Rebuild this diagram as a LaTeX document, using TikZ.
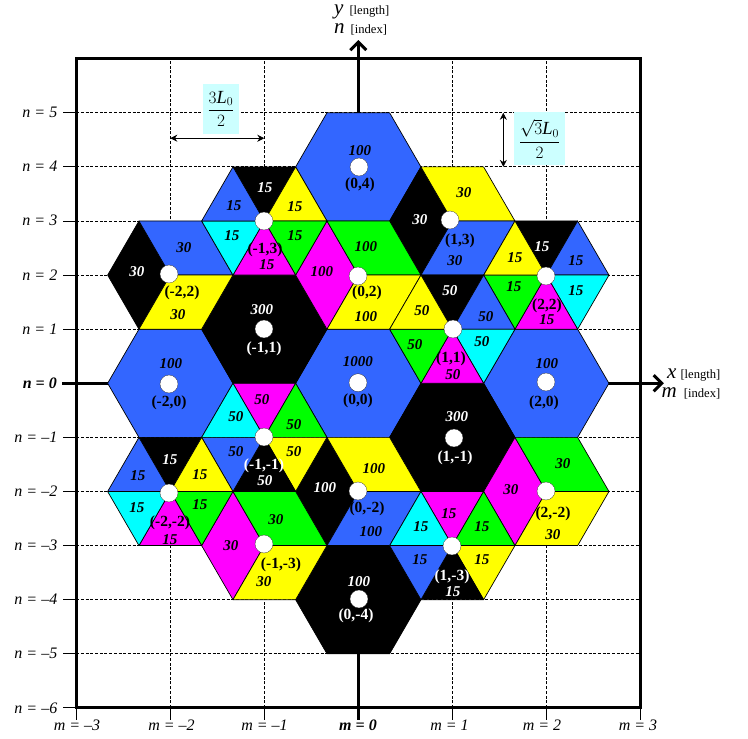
\documentclass[tikz,border=0pt]{standalone}
\usepackage{amsmath}
\usepackage{fontspec}
\setmainfont{Liberation Serif}
\usepackage{xcolor}
\usetikzlibrary{arrows.meta}
\definecolor{hexblue}{HTML}{3366FF}
\definecolor{hexyellow}{HTML}{FFFF00}
\definecolor{hexgreen}{HTML}{00FF00}
\definecolor{hexmagenta}{HTML}{FF00FF}
\definecolor{hexcyan}{HTML}{00FFFF}
\definecolor{fracbg}{HTML}{CCFFFF}
\newcommand{\axvar}[1]{{\fontsize{21}{24}\selectfont\textit{#1}}}
\begin{document}
\begin{tikzpicture}[
    x=94pt, y=54.1pt,
    px/.style={x=1pt, y=-1pt, shift={(-358.3pt,383.3pt)}},
    gridline/.style={line width=0.8pt, dash pattern=on 3pt off 1.7pt},
    tick/.style={line width=0.9pt},
    axis/.style={line width=3pt},
    cell/.style={draw=black, line width=0.7pt, line join=round},
    hub/.style={circle, fill=white, draw=black, line width=0.2pt, minimum size=18pt, inner sep=0pt},
    val/.style={font=\fontsize{15}{16}\selectfont\bfseries\itshape, inner sep=0pt},
    coordlab/.style={font=\fontsize{15.5}{17}\selectfont\bfseries, inner sep=0pt},
    ticklab/.style={font=\fontsize{16}{17}\selectfont\itshape, inner sep=0pt},
    axlab/.style={font=\fontsize{12.6}{14}\selectfont, inner sep=0pt, anchor=base west},
    fracbox/.style={fill=fracbg, inner sep=0pt, font=\fontsize{18.5}{22}\selectfont},
    dimarr/.style={{Stealth[length=7pt,width=7pt]}-{Stealth[length=7pt,width=7pt]}, line width=0.8pt},
]
\begin{scope}[px]
\useasboundingbox (0,0) rectangle (748,739);
\end{scope}

% grid and ticks
\foreach \ni in {-5,-4,-3,-2,-1,1,2,3,4,5} \draw[gridline] (-3,\ni) -- (3,\ni);
\foreach \mi in {-2,-1,1,2} \draw[gridline] (\mi,-6) -- (\mi,6);
\foreach \ni in {-6,...,-1,1,2,3,4,5} \draw[tick] (-3.14,\ni) -- (-3,\ni);
\foreach \mi in {-3,-2,-1,1,2,3} \draw[tick] (\mi,-6.22) -- (\mi,-6);

% axes
\coordinate (xtail) at (-3.15,0);
\coordinate (xtip) at (3.25,0);
\coordinate (ytail) at (0,-6.22);
\coordinate (ytip) at (0,6.345);
\draw[axis, -{Straight Barb[length=8pt,width=16pt]}] (xtail) -- (xtip);
\draw[axis, -{Straight Barb[length=8pt,width=16pt]}] (ytail) -- (ytip);

% whole hexagons
\foreach \mi/\ni/\col in {0/0/hexblue, 0/4/hexblue, 2/0/hexblue, -2/0/hexblue, 0/-4/black, -1/1/black, 1/-1/black}
  \draw[cell, fill=\col] (\mi+2/3,\ni) -- (\mi+1/3,\ni+1) -- (\mi-1/3,\ni+1) -- (\mi-2/3,\ni) -- (\mi-1/3,\ni-1) -- (\mi+1/3,\ni-1) -- cycle;

% hexagons of three rhombi
\foreach \mi/\ni/\ca/\cb/\cc in {1/3/black/hexyellow/hexblue, -2/2/black/hexblue/hexyellow, 0/2/hexmagenta/hexgreen/hexyellow, 0/-2/black/hexyellow/hexblue, -1/-3/hexmagenta/hexgreen/hexyellow, 2/-2/hexmagenta/hexgreen/hexyellow} {
  \draw[cell, fill=\ca] (\mi,\ni) -- (\mi-1/3,\ni+1) -- (\mi-2/3,\ni) -- (\mi-1/3,\ni-1) -- cycle;
  \draw[cell, fill=\cb] (\mi,\ni) -- (\mi-1/3,\ni+1) -- (\mi+1/3,\ni+1) -- (\mi+2/3,\ni) -- cycle;
  \draw[cell, fill=\cc] (\mi,\ni) -- (\mi+2/3,\ni) -- (\mi+1/3,\ni-1) -- (\mi-1/3,\ni-1) -- cycle;
}

% hexagons of six triangles
\foreach \mi/\ni/\ca/\cb/\cc/\cd/\ce/\cf in {-1/3/black/hexyellow/hexgreen/hexmagenta/hexcyan/hexblue, 2/2/black/hexblue/hexcyan/hexmagenta/hexgreen/hexyellow, 1/1/black/hexblue/hexcyan/hexmagenta/hexgreen/hexyellow, -1/-1/hexmagenta/hexgreen/hexyellow/black/hexblue/hexcyan, -2/-2/black/hexyellow/hexgreen/hexmagenta/hexcyan/hexblue, 1/-3/hexmagenta/hexgreen/hexyellow/black/hexblue/hexcyan} {
  \draw[cell, fill=\ca] (\mi,\ni) -- (\mi-1/3,\ni+1) -- (\mi+1/3,\ni+1) -- cycle;
  \draw[cell, fill=\cb] (\mi,\ni) -- (\mi+1/3,\ni+1) -- (\mi+2/3,\ni) -- cycle;
  \draw[cell, fill=\cc] (\mi,\ni) -- (\mi+2/3,\ni) -- (\mi+1/3,\ni-1) -- cycle;
  \draw[cell, fill=\cd] (\mi,\ni) -- (\mi+1/3,\ni-1) -- (\mi-1/3,\ni-1) -- cycle;
  \draw[cell, fill=\ce] (\mi,\ni) -- (\mi-1/3,\ni-1) -- (\mi-2/3,\ni) -- cycle;
  \draw[cell, fill=\cf] (\mi,\ni) -- (\mi-2/3,\ni) -- (\mi-1/3,\ni+1) -- cycle;
}

\draw[axis] (-3,-6) rectangle (3,6);

% dimension arrows
\coordinate (wleft) at (-2,4.53);
\coordinate (wright) at (-1,4.53);
\coordinate (htop) at (1.543,5);
\coordinate (hbot) at (1.543,4);
\draw[dimarr] (wleft) -- (wright);
\draw[dimarr] (htop) -- (hbot);

\begin{scope}[px]
\node[fracbox, minimum width=36pt, minimum height=50pt] (fracw) at (221,108.8) {$\dfrac{3\mathit{L}_0}{2}$};
\node[fracbox, minimum width=51pt, minimum height=53pt] (frach) at (539.5,138.5) {$\dfrac{\sqrt{3}\mathit{L}_0}{2}$};

% hubs and their labels
\foreach \mi/\ni/\xp/\yp/\lx/\ly/\col in {0/0/358/382.7/358/401/black, 0/4/359/167/360/185/black, 0/-4/359/599/356/616/white, 2/0/546/382/544/403/black, -2/0/169/384/169/403/black, -1/1/264/329/264/349/white, 1/-1/454/438/455/458/white, -1/3/264/221/265/250/black, 1/3/450/220/460/241/black, -2/2/169/274/182/293/black, 0/2/358/276/367/293/black, 2/2/546/276/547/306/black, 1/1/453/329/451/359/black, -1/-1/264/437/264/466/white, -2/-2/169/493/170/523/black, -1/-3/264/544/281/565/black, 0/-2/358/491/367/509/black, 1/-3/452/546/452/577/white, 2/-2/546/491/553/514/black} {
  \node[hub] (hub\mi\ni) at (\xp,\yp) {};
  \node[coordlab, text=\col] (lab\mi\ni) at (\lx,\ly) {(\mi,\ni)};
}

% values on dark cells
\foreach \xp/\yp/\num [count=\k] in {265/188/15, 137/272/30, 262/310/300, 420/220/30, 542/247/15, 450/291/50, 265/481/50, 170/460/15, 325/488/100, 359/582/100, 457/417/300, 453/592/15}
  \node[val, text=white] (dark\k) at (\xp,\yp) {\num};

% values on light cells
\foreach \xp/\yp/\num [count=\k] in {358/362/1000, 360/151/100, 171/364/100, 547/364/100,
    295/207/15, 295/236/15, 267/265/15, 232/236/15, 234/206/15,
    184/248/30, 178/315/30, 322/272/100, 366/247/100, 366/317/100,
    464/193/30, 455/261/30,
    576/261/15, 576/291/15, 547/320/15, 514/287/15, 515/258/15,
    486/317/50, 482/342/50, 453/375/50, 415/345/50, 422/311/50,
    262/400/50, 294/425/50, 294/452/50, 236/452/50, 236/417/50,
    200/475/15, 200/505/15, 170/540/15, 137/508/15, 138/476/15,
    276/520/30, 231/546/30, 264/582/30,
    374/469/100, 371/532/100,
    449/514/15, 482/527/15, 482/560/15, 420/560/15, 421/527/15,
    563/464/30, 511/490/30, 553/535/30}
  \node[val] (light\k) at (\xp,\yp) {\num};

% axis names
\node[axlab] (ylen) at (334,14.5) {\axvar{y}\hspace{6pt}[length]};
\node[axlab] (yidx) at (334,34) {\axvar{n}\hspace{6pt}[index]};
\node[axlab] (xlen) at (667,378.5) {\axvar{x}\hspace{4pt}[length]};
\node[axlab] (xidx) at (661.5,397.5) {\axvar{m}\hspace{7pt}[index]};

% m labels
\foreach \xp/\mi in {77/--3, 171.5/--2, 264.5/--1, 449.5/1, 542/2, 638/3}
  \node[ticklab] (mlab\xp) at (\xp,725.7) {m = \mi};
\node[ticklab, font=\fontsize{16}{17}\selectfont\bfseries\itshape] (mzero) at (358,725.7) {m = 0};

% n labels
\foreach \yp/\ni in {112/5, 166/4, 220/3, 275/2, 329/1, 437/--1, 491/--2, 545/--3, 599.5/--4, 653.7/--5, 708/--6}
  \node[ticklab, anchor=east] (nlab\yp) at (57.5,\yp) {n = \ni};
\node[ticklab, anchor=east, font=\fontsize{16}{17}\selectfont\bfseries\itshape] (nzero) at (57,383) {n = 0};
\end{scope}
\end{tikzpicture}
\end{document}
